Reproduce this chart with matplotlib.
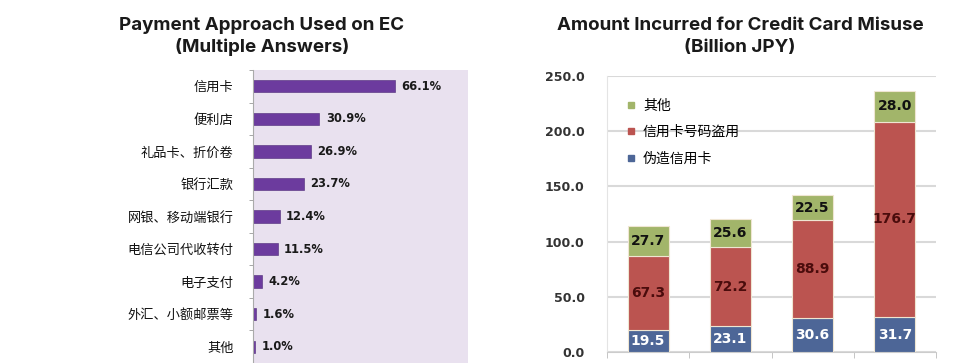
import matplotlib
matplotlib.use("Agg")
import matplotlib.pyplot as plt
from matplotlib.lines import Line2D
import numpy as np

plt.rcParams['font.family'] = ['Noto Sans CJK SC', 'DejaVu Sans']

# left chart: payment approaches (multiple answers, %)
methods = ["信用卡", "便利店", "礼品卡、折价卷", "银行汇款", "网银、移动端银行",
           "电信公司代收转付", "电子支付", "外汇、小额邮票等", "其他"]
shares = [66.1, 30.9, 26.9, 23.7, 12.4, 11.5, 4.2, 1.6, 1.0]

# right chart: credit card misuse (billion JPY), stacked
periods = ["Y1", "Y2", "Y3", "Y4"]
fake_card = [19.5, 23.1, 30.6, 31.7]
number_theft = [67.3, 72.2, 88.9, 176.7]
other = [27.7, 25.6, 22.5, 28.0]
series_names = ["伪造信用卡", "信用卡号码盗用", "其他"]

W, H = 974, 363
fig = plt.figure(figsize=(W / 100, H / 100), dpi=100)

# titles
title_font = dict(family=["Inter", "DejaVu Sans"], fontsize=13.5, fontweight="bold",
                  color="#1a1a1a", ha="center", va="center")
fig.text(262 / W, 1 - 25 / H, "Payment Approach Used on EC", **title_font)
fig.text(262 / W, 1 - 47 / H, "(Multiple Answers)", **title_font)
fig.text(740 / W, 1 - 26 / H, "Amount Incurred for Credit Card Misuse", **title_font)
fig.text(740 / W, 1 - 48 / H, "(Billion JPY)", **title_font)

# ---- left: horizontal bars
ax1 = fig.add_axes([253 / W, 0, 215 / W, 293 / H])
ax1.set_facecolor("#e9e1ef")
y = np.arange(len(methods))
ax1.barh(y, shares, height=0.38, color="#6c3b9e", edgecolor="#4e2a78", linewidth=0.4)
for yi, v in zip(y, shares):
    ax1.text(v + 3, yi, f"{v:.1f}%", va="center", ha="left", fontsize=8.3,
             fontweight="bold", family=["DejaVu Sans"], color="#1a1a1a")
ax1.set_xlim(0, 100)
ax1.set_ylim(len(methods) - 0.5, -0.5)
ax1.set_yticks(y)
ax1.set_yticklabels(methods, fontsize=9.5, color="#111111", fontweight="medium")
ax1.set_yticks(np.arange(len(methods) + 1) - 0.5, minor=True)
ax1.tick_params(axis="y", which="major", length=0, pad=14)
ax1.tick_params(axis="y", which="minor", length=3, color="#999999")
ax1.set_xticks([])
for s in ["top", "right", "bottom"]:
    ax1.spines[s].set_visible(False)
ax1.spines["left"].set_color("#aaaaaa")

# ---- right: stacked columns
ax2 = fig.add_axes([607 / W, 11 / H, 329 / W, 276 / H])
x = np.arange(len(periods))
bottom2 = np.array(fake_card)
bottom3 = bottom2 + np.array(number_theft)
colors = ["#4d6697", "#bb5450", "#a2b56a"]
edge = "#efe6d2"
ax2.bar(x, fake_card, width=0.5, color=colors[0], edgecolor=edge, linewidth=0.8, zorder=3)
ax2.bar(x, number_theft, width=0.5, bottom=bottom2, color=colors[1], edgecolor=edge, linewidth=0.8, zorder=3)
ax2.bar(x, other, width=0.5, bottom=bottom3, color=colors[2], edgecolor=edge, linewidth=0.8, zorder=3)

lab = dict(ha="center", va="center", fontsize=10, fontweight="bold",
           family=["DejaVu Sans"], zorder=4)
for i in range(len(periods)):
    ax2.text(x[i], fake_card[i] / 2, f"{fake_card[i]:.1f}", color="white", **lab)
    ax2.text(x[i], bottom2[i] + number_theft[i] / 2, f"{number_theft[i]:.1f}", color="#4a0c0c", **lab)
    ax2.text(x[i], bottom3[i] + other[i] / 2, f"{other[i]:.1f}", color="#111111", **lab)

ax2.set_xlim(-0.5, len(periods) - 0.5)
ax2.set_ylim(0, 250)
ax2.set_yticks(np.arange(0, 251, 50))
ax2.set_yticklabels([f"{v:.1f}" for v in np.arange(0, 251, 50)], fontsize=9,
                    fontweight="bold", family=["DejaVu Sans"], color="#333333")
ax2.tick_params(axis="y", length=0, pad=16)
ax2.set_xticks([])
ax2.set_xticks(np.arange(len(periods) + 1) - 0.5, minor=True)
ax2.tick_params(axis="x", which="minor", length=4, color="#bbbbbb")
ax2.grid(axis="y", color="#d9d9d9", linewidth=1.5, zorder=0)
ax2.set_axisbelow(True)
for s in ["top", "right"]:
    ax2.spines[s].set_visible(False)
ax2.spines["left"].set_color("#e4e4e4")
ax2.spines["bottom"].set_color("#cccccc")

handles = [Line2D([], [], marker="s", linestyle="none", markersize=5, color=c)
           for c in colors[::-1]]
ax2.legend(handles, series_names[::-1], loc="upper left",
           bbox_to_anchor=(618 / W, 1 - 92 / H), bbox_transform=fig.transFigure,
           frameon=False, fontsize=10, handlelength=0.8, handletextpad=0.5,
           labelspacing=0.88, borderpad=0)

fig.savefig("out.png", dpi=100)
